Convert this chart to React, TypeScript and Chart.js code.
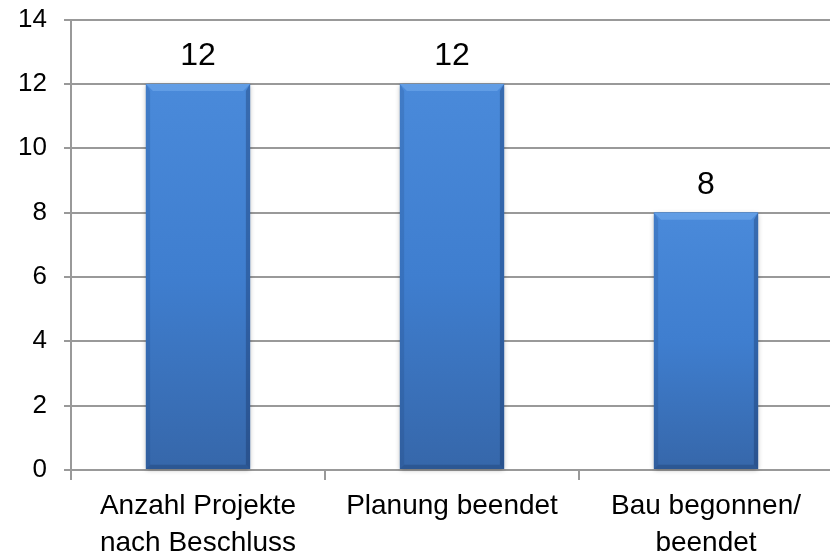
import React, { useEffect, useRef } from "react";
import { Chart, registerables } from "chart.js";

Chart.register(...registerables);

const categories: string[][] = [
  ["Anzahl Projekte", "nach Beschluss"],
  ["Planung beendet"],
  ["Bau begonnen/", "beendet"],
];
const values: number[] = [12, 12, 8];
const yMin = 0;
const yMax = 14;
const yStep = 2;

const FONT = "'Liberation Sans', Arial, sans-serif";

const barStylePlugin = {
  id: "barStyle",
  beforeDatasetsDraw(chart: any) {
    const ctx = chart.ctx;
    const meta = chart.getDatasetMeta(0);
    ctx.save();
    meta.data.forEach((el: any) => {
      const w = el.width;
      const l = el.x - w / 2;
      ctx.shadowColor = "rgba(0,0,0,0.35)";
      ctx.shadowBlur = 5;
      ctx.shadowOffsetX = 0;
      ctx.shadowOffsetY = 1;
      ctx.fillStyle = "#3f7cc9";
      ctx.fillRect(l, el.y, w, el.base - el.y);
    });
    ctx.restore();
  },
  afterDatasetsDraw(chart: any) {
    const ctx = chart.ctx;
    const meta = chart.getDatasetMeta(0);
    ctx.save();
    meta.data.forEach((el: any, i: number) => {
      const w = el.width;
      const l = el.x - w / 2;
      const r = el.x + w / 2;
      const t = el.y;
      const b = el.base;
      const bv = 7;
      const g = ctx.createLinearGradient(0, t, 0, b);
      g.addColorStop(0, "#4a8ada");
      g.addColorStop(0.5, "#3f7ecf");
      g.addColorStop(1, "#3667aa");
      ctx.fillStyle = g;
      ctx.fillRect(l, t, w, b - t);
      // top bevel
      ctx.beginPath();
      ctx.moveTo(l, t);
      ctx.lineTo(r, t);
      ctx.lineTo(r - bv, t + bv);
      ctx.lineTo(l + bv, t + bv);
      ctx.closePath();
      ctx.fillStyle = "rgba(120,175,240,0.5)";
      ctx.fill();
      // left bevel
      ctx.beginPath();
      ctx.moveTo(l, t);
      ctx.lineTo(l + bv * 0.6, t + bv);
      ctx.lineTo(l + bv * 0.6, b - bv * 0.6);
      ctx.lineTo(l, b);
      ctx.closePath();
      ctx.fillStyle = "rgba(20,50,100,0.16)";
      ctx.fill();
      // right bevel
      ctx.beginPath();
      ctx.moveTo(r, t);
      ctx.lineTo(r - bv * 0.6, t + bv);
      ctx.lineTo(r - bv * 0.6, b - bv * 0.6);
      ctx.lineTo(r, b);
      ctx.closePath();
      ctx.fillStyle = "rgba(10,30,70,0.28)";
      ctx.fill();
      // bottom bevel
      ctx.beginPath();
      ctx.moveTo(l, b);
      ctx.lineTo(r, b);
      ctx.lineTo(r - bv * 0.6, b - bv * 0.6);
      ctx.lineTo(l + bv * 0.6, b - bv * 0.6);
      ctx.closePath();
      ctx.fillStyle = "rgba(10,30,70,0.22)";
      ctx.fill();
      // value label
      ctx.fillStyle = "#000";
      ctx.font = `32px ${FONT}`;
      ctx.textAlign = "center";
      ctx.textBaseline = "alphabetic";
      ctx.fillText(String(values[i]), el.x, t - 19);
    });
    ctx.restore();
  },
};

export default function App() {
  const ref = useRef<HTMLCanvasElement | null>(null);
  useEffect(() => {
    if (!ref.current) return;
    const chart = new Chart(ref.current, {
      type: "bar",
      data: {
        labels: categories,
        datasets: [
          {
            data: values,
            backgroundColor: "#3f7cc9",
            borderWidth: 0,
            barPercentage: 0.41,
            categoryPercentage: 1,
          },
        ],
      },
      options: {
        animation: false,
        responsive: false,
        maintainAspectRatio: false,
        layout: { padding: { top: 7, right: 3, left: 0, bottom: 0 } },
        plugins: {
          legend: { display: false },
          tooltip: { enabled: false },
        },
        scales: {
          x: {
            offset: true,
            grid: {
              display: true,
              offset: true,
              drawOnChartArea: false,
              drawTicks: true,
              tickLength: 10,
              color: "#999999",
              lineWidth: 2,
            },
            border: { display: true, color: "#999999", width: 2 },
            ticks: {
              color: "#000",
              font: { family: FONT, size: 28, lineHeight: 1.32 },
              padding: 8,
              maxRotation: 0,
              autoSkip: false,
            },
            afterFit: (s: any) => {
              s.height = 82;
            },
          },
          y: {
            min: yMin,
            max: yMax,
            ticks: {
              stepSize: yStep,
              color: "#000",
              font: { family: FONT, size: 26 },
              padding: 17,
            },
            grid: {
              color: "#999999",
              lineWidth: 2,
              tickLength: 7,
            },
            border: { display: true, color: "#999999", width: 2 },
            afterFit: (s: any) => {
              s.width = 71;
            },
          },
        },
      },
      plugins: [barStylePlugin],
    });
    return () => chart.destroy();
  }, []);
  return (
    <div
      style={{
        position: "fixed",
        left: 0,
        top: 0,
        width: 830,
        height: 552,
        overflow: "hidden",
        background: "#fff",
      }}
    >
      <canvas
        ref={ref}
        width={836}
        height={565}
        style={{ display: "block", position: "absolute", left: 0, top: -13 }}
      />
    </div>
  );
}
